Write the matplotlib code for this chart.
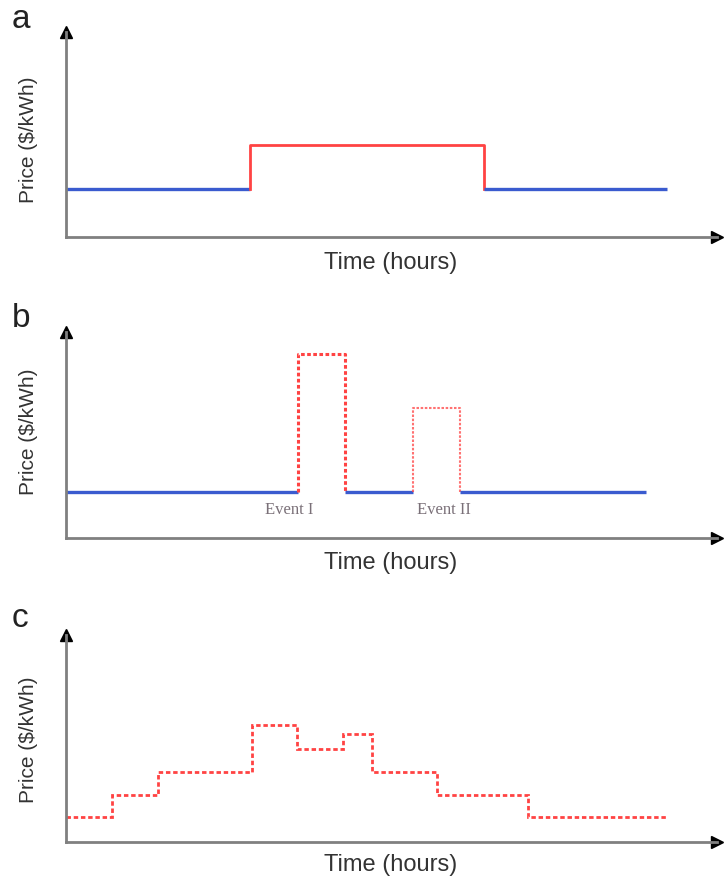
import matplotlib.pyplot as plt

# a: flat rate with one peak block
a_edges = [0, 7.35, 16.7, 24]
a_prices = [1.0, 1.92, 1.0]

# b: flat rate with two critical-peak events
b_edges = [0, 9.27, 11.14, 13.86, 15.73, 23.16]
b_prices = [0.96, 3.83, 0.96, 2.71, 0.96]
b_events = ['Event I', 'Event II']
b_event_x = [8.9, 15.1]
b_event_y = 0.58

# c: real-time pricing
c_edges = [0, 1.84, 3.67, 7.43, 9.22, 11.06, 12.22, 14.8, 18.45, 24]
c_prices = [0.52, 0.98, 1.46, 2.44, 1.94, 2.25, 1.46, 0.98, 0.52]

BLUE = '#3a5bcf'
RED = '#ff4343'
AXIS = '#808080'
TEXT = '#333333'

W, H = 726, 883
fig = plt.figure(figsize=(W / 100, H / 100), dpi=100)
plt.rcParams['font.family'] = ['Liberation Sans', 'DejaVu Sans']


def make_axes(top_px, bottom_px, letter, letter_base, ylab_y, xlab_y):
    ax = fig.add_axes([66 / W, 1 - bottom_px / H, 651 / W, (bottom_px - top_px) / H])
    ax.set_xlim(0, 26)
    ax.set_ylim(0, (bottom_px - top_px) / 48)
    for s in ['top', 'right']:
        ax.spines[s].set_visible(False)
    for s in ['left', 'bottom']:
        ax.spines[s].set_color(AXIS)
        ax.spines[s].set_linewidth(2)
    ax.set_xticks([])
    ax.set_yticks([])
    ax.plot(0, 1, '^', color='black', ms=9, transform=ax.transAxes, clip_on=False)
    ax.plot(1, 0, '>', color='black', ms=9, transform=ax.transAxes, clip_on=False)
    fig.text(12 / W, 1 - letter_base / H, letter, fontsize=24, color='#222222',
             ha='left', va='baseline')
    fig.text(28 / W, 1 - ylab_y / H, 'Price ($/kWh)', fontsize=15, color=TEXT,
             rotation=90, ha='center', va='center')
    fig.text(391 / W, 1 - xlab_y / H, 'Time (hours)', fontsize=17, color=TEXT,
             ha='center', va='center')
    return ax


# panel a
ax = make_axes(32, 237, 'a', 28, 140, 263)
base = a_prices[0]
for i, p in enumerate(a_prices):
    x0, x1 = a_edges[i], a_edges[i + 1]
    if p == base:
        ax.plot([x0, x1], [p, p], color=BLUE, lw=2.4, solid_capstyle='butt')
    else:
        ax.plot([x0, x0, x1, x1], [base, p, p, base], color=RED, lw=2.0)

# panel b
ax = make_axes(332, 538, 'b', 327, 432, 563)
base = b_prices[0]
k = 0
for i, p in enumerate(b_prices):
    x0, x1 = b_edges[i], b_edges[i + 1]
    if p == base:
        ax.plot([x0, x1], [p, p], color=BLUE, lw=2.4, solid_capstyle='butt')
    else:
        lw = 2.2 if k == 0 else 1.5
        alpha = 1.0 if k == 0 else 0.75
        ax.plot([x0, x0, x1, x1], [base, p, p, base], color=RED, lw=lw,
                alpha=alpha, linestyle=(0, (1.2, 0.8)))
        k += 1
for label, x in zip(b_events, b_event_x):
    ax.text(x, b_event_y, label, fontsize=12, family='Liberation Serif',
            color='#7a7078', ha='center', va='center')

# panel c
ax = make_axes(635, 842, 'c', 627, 740, 865)
ax.stairs(c_prices, c_edges, baseline=None, color=RED, lw=2.0,
          linestyle=(0, (1.6, 1.0)))

fig.savefig('out.png', dpi=100)
